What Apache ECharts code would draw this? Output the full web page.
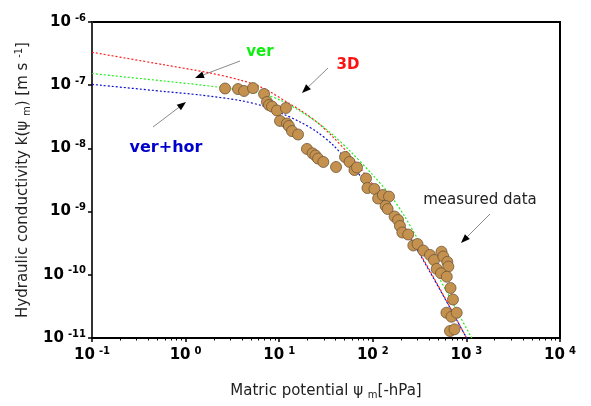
<!DOCTYPE html>
<html>
<head>
<meta charset="utf-8">
<script src="https://cdn.jsdelivr.net/npm/echarts@6/dist/echarts.min.js"></script>
<style>
html,body{margin:0;padding:0;background:#fff}
#main{width:591px;height:406px}
</style>
</head>
<body>
<div id="main"></div>
<script>
// tick positions (decades) and minor log ticks on the x axis
var xMajor = [0.1, 1, 10, 100, 1000, 10000];
var yMajor = [1e-11, 1e-10, 1e-9, 1e-8, 1e-7, 1e-6];
var xMinor = [];
for (var d = 0; d < xMajor.length - 1; d++) {
  for (var m = 2; m <= 9; m++) xMinor.push(m * xMajor[d]);
}

// measured points [matric potential hPa, k m/s]
var measured = [
  [2.64, 8.87e-8], [3.63, 8.7e-8], [4.21, 8.1e-8], [5.25, 9.0e-8], [6.89, 7.26e-8],
  [7.41, 5.42e-8], [7.78, 4.86e-8], [8.38, 4.6e-8], [9.47, 3.98e-8], [11.8, 4.36e-8],
  [10.2, 2.72e-8], [12.1, 2.48e-8], [12.7, 2.26e-8], [13.7, 1.88e-8], [15.9, 1.66e-8],
  [19.8, 9.8e-9], [22.7, 8.36e-9], [24.4, 7.72e-9], [26.0, 6.92e-9], [29.6, 6.1e-9],
  [40.5, 5.08e-9], [50.5, 7.31e-9], [56.4, 6.1e-9], [63.7, 4.55e-9], [67.8, 4.99e-9],
  [84.6, 3.34e-9], [87.7, 2.36e-9], [104, 2.28e-9], [114, 1.61e-9], [128, 1.83e-9],
  [149, 1.73e-9], [137, 1.23e-9], [144, 1.1e-9], [171, 8.36e-10], [186, 7.36e-10],
  [195, 5.92e-10], [207, 4.67e-10], [239, 4.34e-10], [271, 2.91e-10], [300, 3.07e-10],
  [347, 2.42e-10], [408, 2.06e-10], [451, 1.71e-10], [542, 2.32e-10], [567, 1.95e-10],
  [482, 1.24e-10], [625, 1.6e-10], [641, 1.35e-10], [535, 1.06e-10], [617, 9.33e-11],
  [677, 6.18e-11], [719, 4.06e-11], [612, 2.51e-11], [693, 2.17e-11], [788, 2.51e-11],
  [668, 1.29e-11], [746, 1.37e-11]
];

// model curves
var curve3D = [
  [0.1, 3.32e-7], [0.602, 2.09e-7], [1.82, 1.56e-7], [3.81, 1.21e-7], [6.71, 9.03e-8],
  [13.0, 5.05e-8], [16.7, 4.06e-8], [26.0, 2.52e-8], [37.6, 1.51e-8], [53.0, 8.77e-9],
  [73.0, 4.9e-9], [111, 2.2e-9], [153, 1.14e-9], [221, 5.31e-10], [408, 1.15e-10],
  [991, 1.04e-11], [1148, 6.95e-12]
];
var curveVer = [
  [0.1, 1.53e-7], [0.602, 1.16e-7], [1.43, 1.01e-7], [3.81, 8.4e-8], [6.71, 7.26e-8],
  [10.2, 5.83e-8], [16.7, 3.91e-8], [26.0, 2.52e-8], [37.6, 1.63e-8], [57.0, 9.1e-9],
  [100, 3.79e-9], [153, 1.83e-9], [221, 8.22e-10], [408, 1.65e-10], [1140, 1.0e-11],
  [1330, 6.7e-12]
];
var curveVerHor = [
  [0.1, 1.03e-7], [0.602, 7.94e-8], [1.43, 7.0e-8], [3.81, 5.73e-8], [6.71, 4.69e-8],
  [11.0, 3.5e-8], [16.7, 2.62e-8], [25.4, 1.82e-8], [37.6, 1.13e-8], [60.0, 5.27e-9],
  [86.7, 2.74e-9], [153, 1.02e-9], [221, 5.12e-10], [408, 1.11e-10],
  [991, 1.04e-11], [1148, 6.95e-12]
];

var FONT = 'DejaVu Sans';

function powLabel(v) {
  var e = Math.round(Math.log(v) / Math.LN10);
  return '{b|10}{s|' + e + '}';
}
var powRich = {
  b: { fontFamily: FONT, fontSize: 15, fontWeight: 'bold', color: '#000', lineHeight: 18 },
  s: { fontFamily: FONT, fontSize: 10, fontWeight: 'bold', color: '#000', lineHeight: 10,
       verticalAlign: 'top', padding: [0, 0, 0, 4] }
};

// gray line + black arrow head
function arrow(x1, y1, x2, y2) {
  var a = Math.atan2(y2 - y1, x2 - x1), L = 9, W = 3.5;
  var bx = x2 - L * Math.cos(a), by = y2 - L * Math.sin(a);
  return {
    type: 'group', children: [
      { type: 'line', shape: { x1: x1, y1: y1, x2: bx, y2: by }, style: { stroke: '#8a8a8a', lineWidth: 1 } },
      { type: 'polygon', shape: { points: [[x2, y2],
          [bx + W * Math.sin(a), by - W * Math.cos(a)],
          [bx - W * Math.sin(a), by + W * Math.cos(a)]] }, style: { fill: '#000' } }
    ]
  };
}
function label(txt, x, y, color, font) {
  return { type: 'text', x: x, y: y, style: { text: txt, fill: color, font: font,
    textAlign: 'center', textVerticalAlign: 'middle' } };
}

var myChart = echarts.init(document.getElementById('main'));
var seriesCurve = function (name, data, color) {
  return {
    name: name, type: 'line', data: data, smooth: 0.3, symbol: 'none', clip: true,
    lineStyle: { color: color, width: 1.2, type: [2, 2] }, z: 2
  };
};
var option = {
  animation: false,
  backgroundColor: '#fff',
  grid: { left: 92, right: 31, top: 22, bottom: 68, show: true, borderColor: '#000', borderWidth: 2 },
  xAxis: [
    {
      type: 'log', logBase: 10, min: 0.1, max: 10000,
      name: '{n|Matric potential ψ }{sub|m}{n|[-hPa]}',
      nameLocation: 'middle', nameGap: 44,
      nameTextStyle: {
        rich: {
          n: { fontFamily: FONT, fontSize: 15, color: '#222', lineHeight: 18 },
          sub: { fontFamily: FONT, fontSize: 10, color: '#222', lineHeight: 10, verticalAlign: 'bottom' }
        }
      },
      axisLine: { show: true, lineStyle: { color: '#000', width: 2 } },
      axisTick: { show: true, inside: false, length: 4, lineStyle: { color: '#000', width: 1.5 } },
      axisLabel: { formatter: powLabel, rich: powRich, margin: 8 },
      splitLine: { show: false },
      minorTick: { show: false }
    },
    {
      // minor log ticks only
      type: 'log', logBase: 10, min: 0.1, max: 10000, position: 'bottom',
      axisLine: { show: false },
      axisTick: { show: true, inside: false, length: 2.5, customValues: xMinor, lineStyle: { color: '#000', width: 1 } },
      axisLabel: { show: false },
      splitLine: { show: false }
    }
  ],
  yAxis: {
    type: 'log', logBase: 10, min: 1e-11, max: 1e-6,
    name: '{n|Hydraulic conductivity k(ψ }{sub|m}{n|) [m s }{sup|-1}{n|]}',
    nameLocation: 'middle', nameGap: 56, nameRotate: 90,
    nameTextStyle: {
      rich: {
        n: { fontFamily: FONT, fontSize: 15, color: '#222', lineHeight: 18 },
        sub: { fontFamily: FONT, fontSize: 10, color: '#222', lineHeight: 10, verticalAlign: 'bottom' },
        sup: { fontFamily: FONT, fontSize: 10, color: '#222', lineHeight: 10, verticalAlign: 'top' }
      }
    },
    axisLine: { show: true, lineStyle: { color: '#333', width: 2 } },
    axisTick: { show: true, inside: false, length: 4, lineStyle: { color: '#000', width: 1.5 } },
    axisLabel: { formatter: powLabel, rich: powRich, margin: 6 },
    splitLine: { show: false }
  },
  series: [
    seriesCurve('3D', curve3D, '#ff2020'),
    seriesCurve('ver', curveVer, '#22ee22'),
    seriesCurve('ver+hor', curveVerHor, '#1010cc'),
    {
      name: 'measured data', type: 'scatter', data: measured, symbol: 'circle', symbolSize: 11,
      itemStyle: { color: '#c4924e', borderColor: '#6e5638', borderWidth: 0.8, opacity: 1 }, z: 3
    }
  ],
  graphic: [
    label('ver', 260, 52, '#11ee11', 'bold 15px ' + FONT),
    arrow(240, 61, 195, 78),
    label('3D', 348, 65, '#ff1010', 'bold 15px ' + FONT),
    arrow(328, 68, 302, 93),
    label('ver+hor', 166, 148, '#0000cc', 'bold 16px ' + FONT),
    arrow(153, 127, 186, 102),
    label('measured data', 480, 200, '#222', '15px ' + FONT),
    arrow(490, 214, 461, 243)
  ]
};
myChart.setOption(option);
</script>
</body>
</html>
